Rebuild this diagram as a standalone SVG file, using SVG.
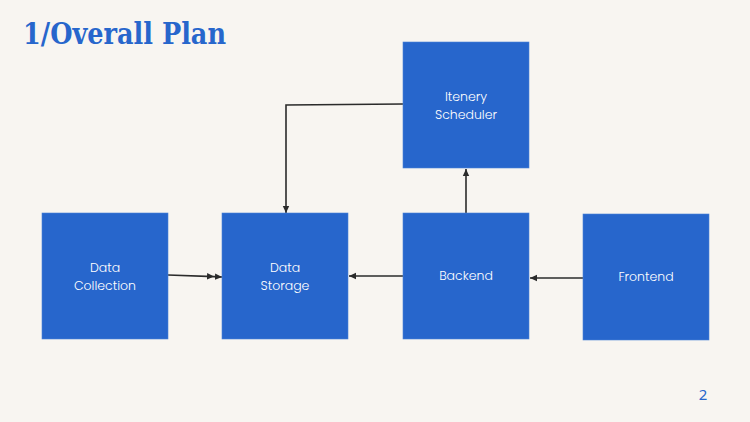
<svg xmlns="http://www.w3.org/2000/svg" width="750" height="422" viewBox="0 0 750 422">
<defs>
<style>
.box{fill:#2766CC;stroke:#4a82d6;stroke-width:0.6}
.lbl{font-family:"Poppins","Noto Sans","Open Sans",sans-serif;font-weight:300;font-size:12.5px;fill:#ffffff;text-anchor:middle}
.con{fill:none;stroke:#2b2b2b;stroke-width:1.6}
</style>
<marker id="ah" markerWidth="8" markerHeight="8" refX="7" refY="4" orient="auto" markerUnits="userSpaceOnUse">
<path d="M0,0.8 L7,4 L0,7.2 Z" fill="#2b2b2b"/>
</marker>
</defs>
<rect width="750" height="422" fill="#F8F5F1"/>
<text x="23" y="44" font-family="'DejaVu Serif','Liberation Serif',serif" font-weight="bold" font-size="30" fill="#2766CC" textLength="203" lengthAdjust="spacingAndGlyphs">1/Overall Plan</text>
<g id="connectors">
<polyline class="con" points="168,275 214,276.6 222,277" marker-mid="url(#ah)" marker-end="url(#ah)"/>
<line class="con" x1="403" y1="276" x2="349" y2="276" marker-end="url(#ah)"/>
<line class="con" x1="583" y1="278" x2="530" y2="278" marker-end="url(#ah)"/>
<line class="con" x1="466" y1="213" x2="466" y2="169" marker-end="url(#ah)"/>
<polyline class="con" points="403,104 286,105 286,213" marker-end="url(#ah)"/>
</g>
<g id="data-collection">
<rect class="box" x="42" y="213" width="126" height="126"/>
<text class="lbl" x="105" y="271.5">Data</text>
<text class="lbl" x="105" y="289.5">Collection</text>
</g>
<g id="data-storage">
<rect class="box" x="222" y="213" width="126" height="126"/>
<text class="lbl" x="285" y="271.5">Data</text>
<text class="lbl" x="285" y="289.5">Storage</text>
</g>
<g id="backend">
<rect class="box" x="403" y="213" width="126" height="126"/>
<text class="lbl" x="466" y="280">Backend</text>
</g>
<g id="frontend">
<rect class="box" x="583" y="214" width="126" height="126"/>
<text class="lbl" x="646" y="281">Frontend</text>
</g>
<g id="itenery-scheduler">
<rect class="box" x="403" y="42" width="126" height="126"/>
<text class="lbl" x="466" y="100.5">Itenery</text>
<text class="lbl" x="466" y="118.5">Scheduler</text>
</g>
<text x="703" y="400" font-family="'Noto Sans',sans-serif" font-size="15" fill="#2766CC" text-anchor="middle">2</text>
</svg>
